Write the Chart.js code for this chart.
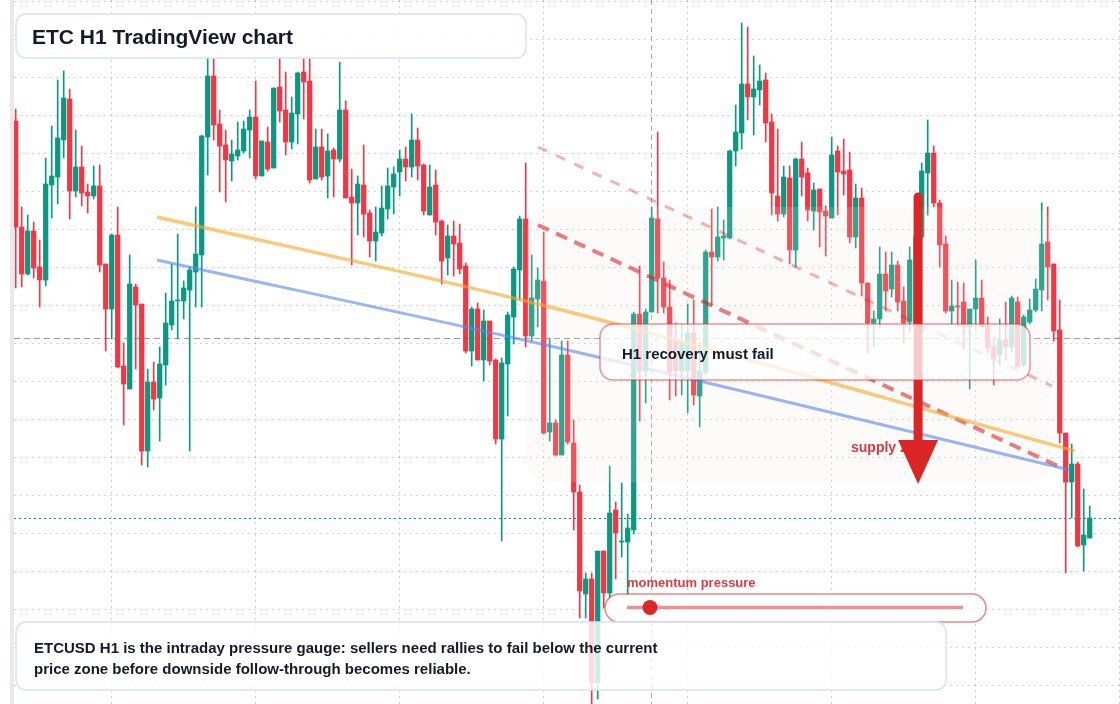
<!DOCTYPE html>
<html><head><meta charset="utf-8">
<script src="https://cdn.jsdelivr.net/npm/chart.js@4.4.1/dist/chart.umd.min.js"></script>
<style>html,body{margin:0;padding:0;background:#fff;overflow:hidden}#wrap{width:1120px;height:704px;position:relative}</style>
</head><body><div id="wrap"><canvas id="c" width="1120" height="704"></canvas></div>
<script>
// ETCUSD H1 candles (price)
const opens = [20.83,19.77,19.30,19.73,19.37,19.24,20.19,20.27,20.64,21.05,20.13,20.37,20.12,20.08,20.18,19.40,18.95,19.69,18.38,18.15,
19.17,19.00,17.53,18.22,18.06,18.39,18.79,19.03,19.03,19.14,19.32,19.49,20.67,21.28,20.80,20.59,20.43,20.48,20.53,20.74,
20.87,20.28,20.62,20.36,21.17,20.94,20.62,20.90,21.32,21.23,20.25,20.57,20.28,20.54,20.45,20.94,20.07,20.01,20.19,19.91,
19.63,19.71,19.95,20.17,20.32,20.45,20.37,20.64,20.39,19.89,20.19,19.83,19.46,19.68,19.61,19.38,18.53,18.95,18.44,18.83,
18.44,17.65,18.40,18.87,19.34,19.85,18.68,19.05,19.23,17.72,17.81,17.49,18.49,17.61,17.12,16.10,16.25,15.21,16.53,16.11,
16.94,16.62,16.62,16.74,18.90,18.33,18.92,19.85,19.26,18.97,18.64,18.33,18.33,18.71,18.08,18.32,19.52,19.47,19.66,19.66,
20.53,20.71,21.20,21.07,21.14,21.24,20.82,20.08,19.90,20.26,19.54,20.45,20.31,19.93,20.15,19.93,19.86,20.53,20.33,20.34,
19.67,20.06,19.21,18.81,18.85,19.30,19.15,19.39,19.03,18.82,18.81,19.67,20.31,20.51,20.01,19.60,18.93,18.98,19.02,18.77,
18.95,19.06,18.78,18.58,18.49,18.64,18.57,19.02,18.39,18.82,18.94,19.14,19.62,19.40,18.74,17.71,17.22,17.40,16.59,16.66];
const highs = [20.95,19.97,19.89,19.82,19.64,20.46,20.78,21.24,21.33,21.15,20.74,20.58,20.20,20.38,20.39,19.40,19.70,19.97,18.61,19.49,
19.20,19.00,18.35,18.42,18.57,19.11,19.40,19.70,19.23,19.37,19.97,20.69,21.47,21.46,20.94,20.74,20.64,20.82,20.83,20.94,
21.23,20.63,20.77,21.16,21.46,21.32,21.07,21.32,21.46,21.46,20.75,20.75,20.70,20.56,21.42,21.03,20.35,20.28,20.59,19.94,
19.97,20.18,20.36,20.37,20.54,20.57,20.90,20.76,20.40,20.39,20.34,19.84,19.79,19.83,19.80,19.41,18.97,19.01,18.94,18.83,
18.45,18.46,18.92,19.37,19.88,20.41,19.49,19.36,19.72,18.66,17.84,18.63,18.63,17.84,17.19,16.31,16.31,16.53,16.53,17.38,
17.02,17.21,16.90,18.92,19.38,18.95,19.97,20.72,19.42,19.24,18.81,18.79,19.00,19.04,18.62,19.54,19.95,19.97,19.84,20.54,
20.99,21.81,21.77,21.48,21.39,21.31,20.90,20.75,20.38,20.38,20.46,20.62,20.36,20.21,20.15,19.98,20.67,20.58,20.65,20.52,
20.20,20.16,19.21,18.93,19.57,19.52,19.52,19.43,19.17,19.57,19.77,20.41,20.84,20.58,20.04,19.68,19.24,19.22,19.21,18.95,
19.44,19.24,18.87,18.67,18.85,19.02,19.08,19.07,18.89,19.05,19.25,20.01,19.97,19.40,19.04,17.71,17.60,17.42,17.15,16.98];
const lows = [19.16,19.17,19.29,19.26,18.97,19.18,19.86,20.00,20.46,19.85,20.07,19.98,19.91,20.05,19.32,18.53,18.65,18.36,17.79,18.15,
18.35,17.39,17.37,17.94,17.63,18.19,18.74,18.65,18.85,17.53,18.97,18.97,20.29,20.64,20.12,20.02,20.23,20.44,20.51,20.46,
20.25,20.28,20.33,20.36,20.82,20.49,20.55,20.60,20.85,20.21,20.25,20.24,20.06,20.07,20.42,20.06,19.39,19.69,19.67,19.47,
19.43,19.68,19.85,19.90,20.08,20.23,20.27,20.24,19.89,19.89,19.69,19.20,19.29,19.28,19.30,18.51,18.38,18.44,18.23,18.39,
17.60,16.63,17.88,18.60,19.04,18.57,18.63,18.77,17.70,17.63,17.48,17.49,17.60,16.74,15.86,15.86,15.00,15.05,15.96,16.00,
16.25,16.47,16.09,16.70,17.83,18.01,18.92,18.91,18.91,18.04,18.08,18.09,17.91,17.99,17.77,18.29,18.99,19.43,19.44,19.65,
20.38,20.55,20.84,20.69,20.99,20.62,19.89,19.83,19.87,19.40,19.37,20.08,19.83,19.74,19.57,19.48,19.86,19.89,20.09,19.61,
19.56,19.08,18.51,18.57,18.76,18.93,19.07,18.93,18.61,18.72,18.74,19.64,19.89,19.97,19.37,18.91,18.80,18.77,18.55,18.15,
18.74,18.77,18.51,18.19,18.39,18.44,18.52,18.37,18.37,18.80,18.92,18.93,19.04,18.63,17.61,16.31,16.86,16.57,16.33,16.66];
const closes = [19.77,19.30,19.73,19.36,19.24,20.20,20.28,20.66,21.06,20.13,20.37,20.11,20.08,20.18,19.39,18.95,19.69,18.37,18.20,19.20,
18.99,17.53,18.22,18.05,18.40,18.81,19.03,19.04,19.16,19.34,19.50,20.68,21.28,20.79,20.58,20.44,20.50,20.54,20.75,20.87,
20.28,20.63,20.35,21.16,20.93,20.62,20.91,21.31,21.22,20.24,20.57,20.27,20.53,20.45,20.94,20.06,20.01,20.20,19.90,19.63,
19.72,19.96,20.18,20.30,20.45,20.37,20.64,20.38,19.93,20.17,19.82,19.43,19.68,19.60,19.35,18.53,18.95,18.44,18.83,18.43,
17.65,18.41,18.89,19.35,19.85,18.68,19.06,19.24,17.71,17.81,17.49,18.49,17.62,17.12,16.13,16.25,15.21,16.53,16.11,16.91,
16.71,16.63,16.76,18.90,18.33,18.92,19.86,19.26,18.97,18.32,18.33,18.62,18.71,18.09,18.33,19.52,19.47,19.67,19.68,20.53,
20.72,21.20,21.07,21.15,21.23,20.81,20.11,19.90,20.27,19.54,20.45,20.27,19.94,20.14,19.92,19.88,20.49,20.32,20.30,19.67,
20.06,19.21,18.81,18.85,19.30,19.13,19.39,19.02,18.81,19.44,19.67,20.33,20.51,20.01,19.59,18.93,18.98,18.97,18.79,18.95,
19.06,18.77,18.56,18.46,18.64,18.57,19.06,18.37,18.87,18.94,19.15,19.60,19.37,18.73,17.71,17.22,17.40,16.58,16.69,16.86];

// reference levels / drawings (index, price)
const lastPriceLevel = 18.66;
const supportLevel = 16.86;
const markerIndex = 105.9;
const orangeLine = [[23.55,19.87],[89.05,18.97],[176.55,17.53]];
const blueLine = [[23.55,19.44],[89.05,18.58],[175.7,17.34]];
const redChannelLow = [[87.05,19.79],[174.05,17.37]];
const redChannelHigh = [[87.05,20.57],[172.7,18.18]];
const supplyZone = {from: 85.2, to: 172.7, top: 19.97, bottom: 17.22};
const arrowMove = {index: 150.4, from: 20.11, to: 17.20};
const gridXIdx = [15.88,39.88,63.88,87.88,111.88,135.88,159.88,183.88];
const gridYPrice = [22.03,21.65,21.27,20.89,20.51,20.13,19.75,19.37,18.99,18.61,18.23,17.85,17.47,17.09,16.71,16.33,15.95,15.57,15.19];

const UP = '#089981', DOWN = '#f23645';
const idx = opens.map((_, i) => i);
const colors = idx.map(i => closes[i] >= opens[i] ? UP : DOWN);
const FONT = '"Liberation Sans", Arial, sans-serif';

function rr(ctx, x, y, w, h, r) { ctx.beginPath(); ctx.roundRect(x, y, w, h, r); }

const overlay = {
  id: 'overlay',
  beforeDatasetsDraw(chart) {
    const {ctx, chartArea: a, scales: {x, y}} = chart;
    ctx.save();
    // dotted grid
    ctx.strokeStyle = 'rgba(0,0,0,0.17)'; ctx.lineWidth = 1; ctx.setLineDash([2, 4]);
    gridXIdx.forEach(v => {
      const px = Math.round(x.getPixelForValue(v)) + 0.5;
      ctx.beginPath(); ctx.moveTo(px, a.top); ctx.lineTo(px, a.bottom); ctx.stroke();
    });
    gridYPrice.forEach(v => {
      const py = Math.round(y.getPixelForValue(v)) + 0.5;
      ctx.beginPath(); ctx.moveTo(a.left, py); ctx.lineTo(a.right, py); ctx.stroke();
    });
    ctx.fillStyle = '#e9e9e9';
    ctx.fillRect(10, 0, 4, 704);
    ctx.setLineDash([6, 4]); ctx.strokeStyle = '#9a9a9a';
    let py = Math.round(y.getPixelForValue(lastPriceLevel)) + 0.5;
    ctx.beginPath(); ctx.moveTo(a.left, py); ctx.lineTo(a.right, py); ctx.stroke();
    ctx.setLineDash([2, 3]); ctx.strokeStyle = UP;
    py = Math.round(y.getPixelForValue(supportLevel)) + 0.5;
    ctx.beginPath(); ctx.moveTo(a.left, py); ctx.lineTo(a.right, py); ctx.stroke();
    ctx.setLineDash([5, 4]); ctx.strokeStyle = '#a6a6a6';
    const px = Math.round(x.getPixelForValue(markerIndex)) + 0.5;
    ctx.beginPath(); ctx.moveTo(px, 0); ctx.lineTo(px, 704); ctx.stroke();
    ctx.restore();
  },
  afterDatasetDraw(chart, args) {
    if (chart.data.datasets[args.index].label !== 'bodies') return;
    const {ctx, scales: {x, y}} = chart;
    const x0 = x.getPixelForValue(supplyZone.from), x1 = x.getPixelForValue(supplyZone.to);
    const y0 = y.getPixelForValue(supplyZone.top), y1 = y.getPixelForValue(supplyZone.bottom);
    ctx.save();
    ctx.fillStyle = 'rgba(245,232,220,0.16)';
    rr(ctx, x0, y0, x1 - x0, y1 - y0, 22); ctx.fill();
    ctx.restore();
  },
  afterDatasetsDraw(chart) {
    const {ctx, scales: {x, y}} = chart;
    ctx.save();
    ctx.fillStyle = '#e03a3e';
    ctx.font = 'bold 14px ' + FONT;
    ctx.textBaseline = 'alphabetic';
    ctx.fillText('supply zone', 851, 452);
    const ax = x.getPixelForValue(arrowMove.index);
    const ay0 = y.getPixelForValue(arrowMove.from), ay1 = y.getPixelForValue(arrowMove.to);
    ctx.strokeStyle = '#dc2626'; ctx.fillStyle = '#dc2626';
    ctx.lineWidth = 9; ctx.lineCap = 'round';
    ctx.beginPath(); ctx.moveTo(ax, ay0 + 4); ctx.lineTo(ax, ay1 - 40); ctx.stroke();
    ctx.beginPath(); ctx.moveTo(ax - 20, ay1 - 44); ctx.lineTo(ax + 20, ay1 - 44); ctx.lineTo(ax, ay1); ctx.closePath(); ctx.fill();
    ctx.lineCap = 'butt';
    ctx.fillStyle = 'rgba(255,255,255,0.9)';
    ctx.strokeStyle = '#d5e3f7'; ctx.lineWidth = 1.5;
    rr(ctx, 16, 14, 510, 44, 10); ctx.fill(); ctx.stroke();
    ctx.fillStyle = '#131a2a';
    ctx.font = 'bold 21px ' + FONT;
    ctx.fillText('ETC H1 TradingView chart', 32, 44);
    ctx.fillStyle = 'rgba(255,255,255,0.76)';
    ctx.strokeStyle = 'rgba(220,38,38,0.5)'; ctx.lineWidth = 1.5;
    rr(ctx, 600, 324, 430, 56, 13); ctx.fill(); ctx.stroke();
    ctx.fillStyle = '#131a2a';
    ctx.font = 'bold 15px ' + FONT;
    ctx.fillText('H1 recovery must fail', 622, 359);
    ctx.fillStyle = '#e03a3e';
    ctx.font = 'bold 13px ' + FONT;
    ctx.fillText('momentum pressure', 627, 587);
    ctx.fillStyle = 'rgba(255,255,255,0.85)';
    ctx.strokeStyle = 'rgba(220,38,38,0.55)'; ctx.lineWidth = 1.5;
    rr(ctx, 605, 594, 381, 28, 14); ctx.fill(); ctx.stroke();
    ctx.strokeStyle = 'rgba(220,38,38,0.5)'; ctx.lineWidth = 3.5;
    ctx.beginPath(); ctx.moveTo(627, 607.5); ctx.lineTo(963, 607.5); ctx.stroke();
    ctx.fillStyle = '#dc2626';
    ctx.beginPath(); ctx.arc(650, 607.5, 7.5, 0, Math.PI * 2); ctx.fill();
    ctx.fillStyle = 'rgba(255,255,255,0.82)';
    ctx.strokeStyle = '#d5e3f7'; ctx.lineWidth = 1.5;
    rr(ctx, 16, 622, 930, 68, 10); ctx.fill(); ctx.stroke();
    ctx.fillStyle = '#131a2a';
    ctx.font = 'bold 15px ' + FONT;
    ctx.fillText('ETCUSD H1 is the intraday pressure gauge: sellers need rallies to fail below the current', 34, 653);
    ctx.fillText('price zone before downside follow-through becomes reliable.', 34, 674);
    ctx.restore();
  }
};

const lineDs = (pts, color, width, dash, order, smooth) => ({
  type: 'line', data: pts.map(p => ({x: p[0], y: p[1]})), borderColor: color, borderWidth: width,
  borderDash: dash, pointRadius: 0, fill: false, order: order, borderCapStyle: 'butt',
  tension: smooth ? 0.4 : 0, cubicInterpolationMode: smooth ? 'monotone' : 'default'
});

new Chart(document.getElementById('c'), {
  type: 'bar',
  data: {
    datasets: [
      lineDs(redChannelHigh, 'rgba(220,38,38,0.35)', 3, [10, 10], 3, false),
      lineDs(redChannelLow, 'rgba(220,38,38,0.6)', 4, [12, 8], 2, false),
      lineDs(orangeLine, 'rgba(249,168,37,0.62)', 3.5, [], 1, true),
      lineDs(blueLine, 'rgba(90,135,246,0.62)', 3, [], 0, true),
      {label: 'bodies', type: 'bar', order: 5, grouped: false, barThickness: 4.6, minBarLength: 1,
       data: idx.map(i => ({x: i, y: [opens[i], closes[i]]})), backgroundColor: colors, borderWidth: 0},
      {label: 'wicks', type: 'bar', order: 6, grouped: false, barThickness: 1,
       data: idx.map(i => ({x: i, y: [lows[i], highs[i]]})), backgroundColor: colors, borderWidth: 0}
    ]
  },
  options: {
    responsive: false, animation: false, devicePixelRatio: 1,
    layout: {padding: {left: 14, right: 0, top: 0, bottom: 0}},
    plugins: {legend: {display: false}, tooltip: {enabled: false}},
    scales: {
      x: {type: 'linear', min: -0.283, max: 184.05, offset: false, display: false},
      y: {type: 'linear', min: 15.00, max: 22.04, display: false}
    }
  },
  plugins: [overlay]
});
</script></body></html>
